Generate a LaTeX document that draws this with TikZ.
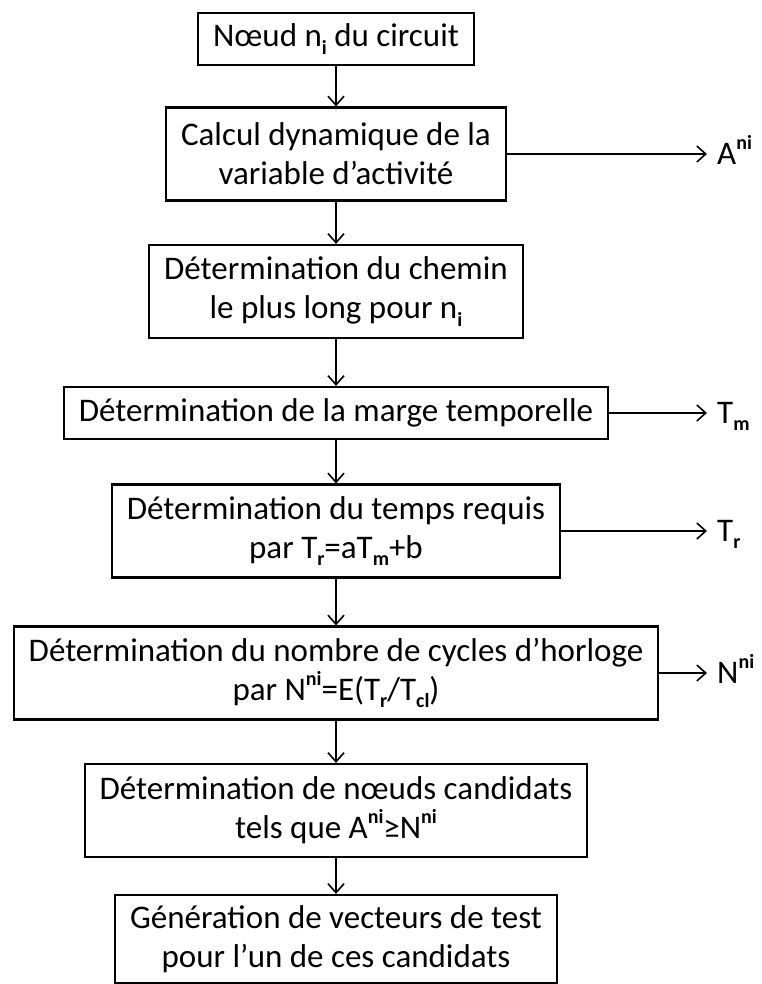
\documentclass[tikz,border=0pt]{standalone}
\usepackage{fontspec}
\setmainfont{Carlito}
\usetikzlibrary{arrows.meta}
\newcommand\spb[1]{\raisebox{0.45em}{\fontsize{20}{20}\selectfont\bfseries #1}}
\newcommand\sbb[1]{\raisebox{-0.22em}{\fontsize{20}{20}\selectfont\bfseries #1}}
\begin{document}
\begin{tikzpicture}[x=1pt,y=-1pt,
  box/.style={draw, line width=2.2pt, align=center, inner xsep=15pt, inner ysep=0pt, font=\fontsize{33}{39}\selectfont},
  one/.style={box, minimum height=52pt},
  two/.style={box, minimum height=93pt},
  flow/.style={line width=1.6pt, -{Straight Barb[length=9pt,width=16pt,line width=1.6pt]}},
  lab/.style={anchor=base west, inner xsep=10pt, inner ysep=0pt, font=\fontsize{33}{39}\selectfont}]
\path[use as bounding box] (0,0) rectangle (761,984);
\node[one] (b1) at (336,39) {Nœud n\sbb{i} du circuit};
\node[two] (b2) at (336,154) {Calcul dynamique de la\\variable d’activité};
\node[two] (b3) at (336,291.5) {Détermination du chemin\\le plus long pour n\sbb{i}};
\node[one] (b4) at (336,413) {Détermination de la marge temporelle};
\node[two] (b5) at (336,531) {Détermination du temps requis\\par T\sbb{r}=aT\sbb{m}+b};
\node[two] (b6) at (336,673) {Détermination du nombre de cycles d’horloge\\par N\spb{ni}=E(T\sbb{r}/T\sbb{cl})};
\node[two] (b7) at (336,810.5) {Détermination de nœuds candidats\\tels que A\spb{ni}≥N\spb{ni}};
\node[box, minimum height=88pt] (b8) at (336,939) {Génération de vecteurs de test\\pour l’un de ces candidats};
\node[lab] (la) at (707,164.6) {A\spb{ni}};
\node[lab] (lm) at (707,423.6) {T\sbb{m}};
\node[lab] (lr) at (707,541.6) {T\sbb{r}};
\node[lab] (ln) at (707,683.6) {N\spb{ni}};
\draw[flow] (b1) -- (b2);
\draw[flow] (b2) -- (b3);
\draw[flow] (b3) -- (b4);
\draw[flow] (b4) -- (b5);
\draw[flow] (b5) -- (b6);
\draw[flow] (b6) -- (b7);
\draw[flow] (b7) -- (b8);
\draw[flow] (b2.east) -- (b2.east -| la.west);
\draw[flow] (b4.east) -- (b4.east -| lm.west);
\draw[flow] (b5.east) -- (b5.east -| lr.west);
\draw[flow] (b6.east) -- (b6.east -| ln.west);
\end{tikzpicture}
\end{document}
